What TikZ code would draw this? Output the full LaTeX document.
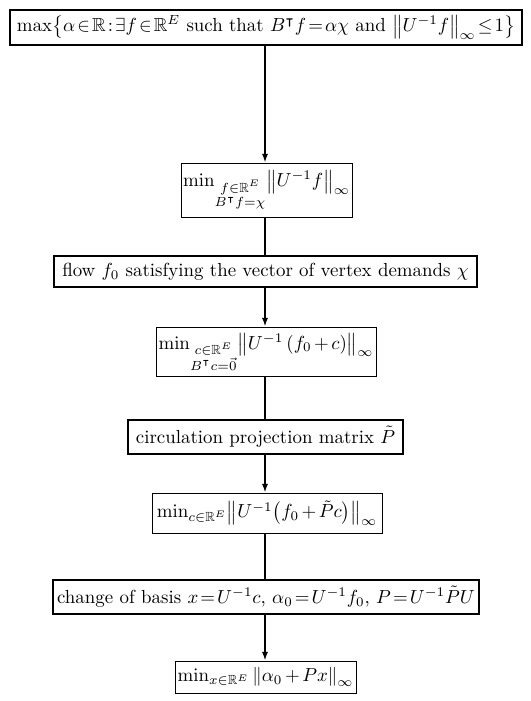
\documentclass[tikz,border=0pt]{standalone}
\usepackage{amsmath,amssymb}
\usetikzlibrary{arrows.meta}
\newcommand{\pxl}{0.529pt}
\begin{document}
\thickmuskip=3mu plus 2mu
\medmuskip=2.5mu plus 1mu
\begin{tikzpicture}[x=\pxl,y=-\pxl,
  thickbox/.style={draw,line width=1.3pt,inner sep=0pt,align=center},
  thinbox/.style={draw,line width=0.4pt,inner sep=0pt,align=center},
  conn/.style={line width=1.05pt},
  arr/.style={conn,-{Latex[length=4.6pt,width=3.2pt]}}]
\useasboundingbox (0,0) rectangle (531,701);
\node[thickbox,minimum width=512*\pxl,minimum height=35*\pxl] (n1) at (266,27.5)
  {\thickmuskip=2mu plus 1mu$\max\bigl\{\alpha\in\mathbb{R} : \exists f\in\mathbb{R}^E \text{ such that } B^\intercal f=\alpha\chi \text{ and } \bigl\|U^{-1}f\bigr\|_\infty\le 1\bigr\}$};
\node[thinbox,minimum width=171*\pxl,minimum height=54*\pxl] (n2) at (266.5,190)
  {$\min_{\substack{f\in\mathbb{R}^E\\ B^\intercal f=\chi}} \bigl\|U^{-1}f\bigr\|_\infty$};
\node[thickbox,minimum width=423*\pxl,minimum height=31*\pxl] (n3) at (265.5,271.5)
  {flow $f_0$ satisfying the vector of vertex demands $\chi$};
\node[thinbox,minimum width=220*\pxl,minimum height=49*\pxl] (n4) at (266,351.5)
  {$\min_{\substack{c\in\mathbb{R}^E\\ B^\intercal c=\vec{0}}} \bigl\|U^{-1}\left(f_0+c\right)\bigr\|_\infty$};
\node[thickbox,minimum width=275*\pxl,minimum height=34*\pxl] (n5) at (265.5,437)
  {circulation projection matrix $\tilde{P}$};
\node[thinbox,minimum width=230*\pxl,minimum height=40*\pxl] (n6) at (267,513)
  {$\min_{c\in\mathbb{R}^E}\bigl\|U^{-1}\bigl(f_0+\tilde{P}c\bigr)\bigr\|_\infty$};
\node[thickbox,minimum width=426*\pxl,minimum height=34*\pxl] (n7) at (266,597)
  {\thickmuskip=2mu plus 1mu change of basis $x=U^{-1}c$, $\alpha_0=U^{-1}f_0$, $P=U^{-1}\tilde{P}U$};
\node[thinbox,minimum width=181*\pxl,minimum height=32*\pxl] (n8) at (265.5,677)
  {$\min_{x\in\mathbb{R}^E}\left\|\alpha_0+Px\right\|_\infty$};
\draw[arr] (n1.south -| 265,0) -- (n2.north -| 265,0);
\draw[conn] (n2.south -| 265,0) -- (n3.north -| 265,0);
\draw[arr] (n3.south -| 265,0) -- (n4.north -| 265,0);
\draw[conn] (n4.south -| 265,0) -- (n5.north -| 265,0);
\draw[arr] (n5.south -| 265,0) -- (n6.north -| 265,0);
\draw[conn] (n6.south -| 265,0) -- (n7.north -| 265,0);
\draw[arr] (n7.south -| 265,0) -- (n8.north -| 265,0);
\end{tikzpicture}
\end{document}
